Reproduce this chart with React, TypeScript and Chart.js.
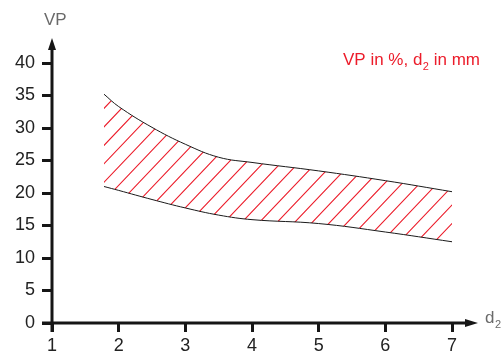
import React, { useEffect, useRef } from "react";
import { Chart, registerables } from "chart.js";

Chart.register(...registerables);

const d2Values = [1.78, 2, 2.5, 3, 3.5, 4, 5, 6, 7];
const upperVP = [35.2, 33.3, 30.1, 27.5, 25.5, 24.7, 23.4, 21.9, 20.2];
const lowerVP = [21.0, 20.4, 19.0, 17.7, 16.6, 15.9, 15.3, 14.0, 12.5];
const xTicks = [1, 2, 3, 4, 5, 6, 7];
const yTicks = [0, 5, 10, 15, 20, 25, 30, 35, 40];

const FONT = "'Liberation Sans', Arial, sans-serif";
const RED = "#ec1c2a";
const AXIS = "#161616";

function tracePoints(ctx: CanvasRenderingContext2D, pts: any[], reverse: boolean, move: boolean) {
  const list = reverse ? pts.slice().reverse() : pts;
  if (move) ctx.moveTo(list[0].x, list[0].y);
  else ctx.lineTo(list[0].x, list[0].y);
  for (let i = 1; i < list.length; i++) {
    const prev = list[i - 1];
    const cur = list[i];
    if (!reverse) {
      ctx.bezierCurveTo(prev.cp2x ?? prev.x, prev.cp2y ?? prev.y, cur.cp1x ?? cur.x, cur.cp1y ?? cur.y, cur.x, cur.y);
    } else {
      ctx.bezierCurveTo(prev.cp1x ?? prev.x, prev.cp1y ?? prev.y, cur.cp2x ?? cur.x, cur.cp2y ?? cur.y, cur.x, cur.y);
    }
  }
}

const hatchPlugin = {
  id: "hatch",
  beforeDatasetsDraw(chart: any) {
    const ctx = chart.ctx as CanvasRenderingContext2D;
    const up = chart.getDatasetMeta(0).data;
    const lo = chart.getDatasetMeta(1).data;
    if (!up.length || !lo.length) return;
    ctx.save();
    ctx.beginPath();
    tracePoints(ctx, up, false, true);
    tracePoints(ctx, lo, true, false);
    ctx.closePath();
    ctx.clip();
    ctx.strokeStyle = RED;
    ctx.lineWidth = 1.1;
    const bottom = chart.chartArea.bottom;
    const step = 17.6;
    const slope = 1.05;
    ctx.beginPath();
    for (let k = -40; k < 40; k++) {
      const x = 110.8 + k * step;
      ctx.moveTo(x, bottom);
      ctx.lineTo(x + 400, bottom - 400 * slope);
    }
    ctx.stroke();
    ctx.restore();
  },
};

const decorPlugin = {
  id: "decor",
  afterDraw(chart: any) {
    const ctx = chart.ctx as CanvasRenderingContext2D;
    const xs = chart.scales.x;
    const ys = chart.scales.y;
    const x0 = xs.getPixelForValue(xTicks[0]);
    const y0 = ys.getPixelForValue(yTicks[0]);
    const yTop = ys.getPixelForValue(yTicks[yTicks.length - 1]);
    const xRight = xs.getPixelForValue(xTicks[xTicks.length - 1]);
    ctx.save();
    ctx.strokeStyle = AXIS;
    ctx.fillStyle = AXIS;
    ctx.lineWidth = 3;
    ctx.lineCap = "butt";
    // y axis
    ctx.beginPath();
    ctx.moveTo(x0, y0 + 9);
    ctx.lineTo(x0, yTop - 14);
    ctx.stroke();
    ctx.beginPath();
    ctx.moveTo(x0, yTop - 25);
    ctx.lineTo(x0 - 4, yTop - 13);
    ctx.lineTo(x0 + 4, yTop - 13);
    ctx.closePath();
    ctx.fill();
    // x axis
    ctx.beginPath();
    ctx.moveTo(x0 - 10, y0);
    ctx.lineTo(xRight + 14, y0);
    ctx.stroke();
    ctx.beginPath();
    ctx.moveTo(xRight + 26, y0);
    ctx.lineTo(xRight + 13, y0 - 4);
    ctx.lineTo(xRight + 13, y0 + 4);
    ctx.closePath();
    ctx.fill();

    // axis titles
    ctx.fillStyle = "#6a6a6a";
    ctx.textBaseline = "alphabetic";
    ctx.textAlign = "left";
    ctx.font = `17px ${FONT}`;
    ctx.fillText("VP", 44, 25);
    ctx.fillText("d", 485, 323);
    ctx.font = `11px ${FONT}`;
    ctx.fillText("2", 495, 328);

    // red annotation
    ctx.fillStyle = RED;
    ctx.font = `17px ${FONT}`;
    let x = 343;
    const t1 = "VP in %, d";
    ctx.fillText(t1, x, 65);
    x += ctx.measureText(t1).width + 0.5;
    ctx.font = `11px ${FONT}`;
    ctx.fillText("2", x, 70);
    x += ctx.measureText("2").width;
    ctx.font = `17px ${FONT}`;
    ctx.fillText(" in mm", x, 65);
    ctx.restore();
  },
};

export default function App() {
  const ref = useRef<HTMLCanvasElement | null>(null);
  useEffect(() => {
    if (!ref.current) return;
    const chart = new Chart(ref.current, {
      type: "line",
      data: {
        datasets: [
          {
            label: "upper",
            data: d2Values.map((x, i) => ({ x, y: upperVP[i] })),
            borderColor: "#1a1a1a",
            borderWidth: 1,
            pointRadius: 0,
            tension: 0.4,
            fill: false,
          },
          {
            label: "lower",
            data: d2Values.map((x, i) => ({ x, y: lowerVP[i] })),
            borderColor: "#1a1a1a",
            borderWidth: 1,
            pointRadius: 0,
            tension: 0.4,
            fill: false,
          },
        ],
      },
      options: {
        animation: false,
        responsive: false,
        layout: { padding: { top: 63, right: 50, left: 0, bottom: 0 } },
        plugins: { legend: { display: false }, tooltip: { enabled: false } },
        scales: {
          x: {
            type: "linear",
            min: xTicks[0],
            max: xTicks[xTicks.length - 1],
            afterBuildTicks: (s: any) => {
              s.ticks = xTicks.map((v) => ({ value: v }));
            },
            afterFit: (s: any) => {
              s.height = 33;
            },
            ticks: {
              color: "#222",
              font: { family: FONT, size: 18 },
              padding: 3,
            },
            grid: {
              drawOnChartArea: false,
              drawTicks: true,
              tickLength: 9,
              tickWidth: 3,
              tickColor: AXIS,
            },
            border: { display: false },
          },
          y: {
            type: "linear",
            min: yTicks[0],
            max: yTicks[yTicks.length - 1],
            afterBuildTicks: (s: any) => {
              s.ticks = yTicks.map((v) => ({ value: v }));
            },
            afterFit: (s: any) => {
              s.width = 52;
            },
            ticks: {
              color: "#222",
              font: { family: FONT, size: 18 },
              padding: 7,
            },
            grid: {
              drawOnChartArea: false,
              drawTicks: true,
              tickLength: 10,
              tickWidth: 3,
              tickColor: AXIS,
            },
            border: { display: false },
          },
        },
      },
      plugins: [hatchPlugin, decorPlugin],
    });
    return () => chart.destroy();
  }, []);
  return (
    <div style={{ position: "fixed", left: 0, top: 0, width: 502, height: 356, background: "#fff" }}>
      <canvas ref={ref} width={502} height={356} />
    </div>
  );
}
